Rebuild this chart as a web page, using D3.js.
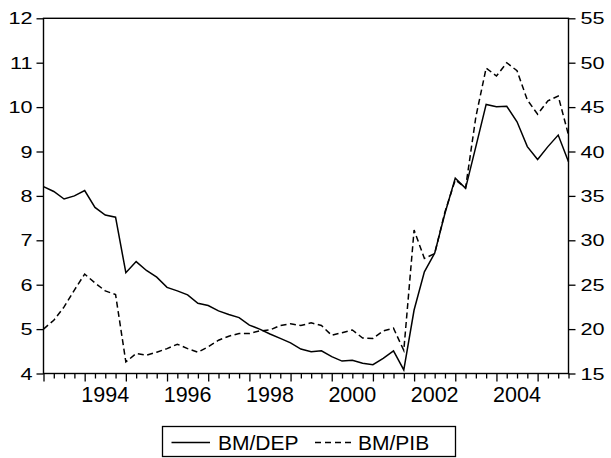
<!DOCTYPE html>
<html>
<head>
<meta charset="utf-8">
<script src="https://cdn.jsdelivr.net/npm/d3@7"></script>
<style>
  html, body { margin: 0; padding: 0; background: #fff; }
  svg { display: block; }
  text { font-family: "Liberation Sans", Arial, Helvetica, sans-serif; fill: #000; }
</style>
</head>
<body>
<svg id="chart" width="611" height="458"></svg>
<script>
// ---- data ----
const quarters = [
  "1993Q1","1993Q2","1993Q3","1993Q4","1994Q1","1994Q2","1994Q3","1994Q4",
  "1995Q1","1995Q2","1995Q3","1995Q4","1996Q1","1996Q2","1996Q3","1996Q4",
  "1997Q1","1997Q2","1997Q3","1997Q4","1998Q1","1998Q2","1998Q3","1998Q4",
  "1999Q1","1999Q2","1999Q3","1999Q4","2000Q1","2000Q2","2000Q3","2000Q4",
  "2001Q1","2001Q2","2001Q3","2001Q4","2002Q1","2002Q2","2002Q3","2002Q4",
  "2003Q1","2003Q2","2003Q3","2003Q4","2004Q1","2004Q2","2004Q3","2004Q4",
  "2005Q1","2005Q2","2005Q3","2005Q4"
];
// BM/DEP (left axis)
const bmDep = [
  8.21, 8.10, 7.93, 8.00, 8.12, 7.74, 7.57, 7.52,
  6.27, 6.52, 6.32, 6.17, 5.94, 5.86, 5.77, 5.58,
  5.53, 5.41, 5.33, 5.26, 5.09, 5.00, 4.89, 4.79,
  4.69, 4.55, 4.49, 4.51, 4.38, 4.28, 4.30, 4.23,
  4.20, 4.34, 4.51, 4.08, 5.43, 6.29, 6.71, 7.61,
  8.40, 8.17, 9.11, 10.06, 10.01, 10.02, 9.67, 9.11,
  8.82, 9.11, 9.37, 8.77
];
// BM/PIB (right axis)
const bmPib = [
  20.0, 21.0, 22.5, 24.4, 26.2, 25.2, 24.3, 23.9,
  16.3, 17.25, 17.06, 17.4, 17.8, 18.3, 17.8, 17.4,
  18.0, 18.75, 19.2, 19.5, 19.5, 19.8, 19.9, 20.4,
  20.6, 20.4, 20.7, 20.4, 19.3, 19.6, 19.9, 19.0,
  18.95, 19.8, 20.1, 17.6, 31.15, 27.96, 28.5, 33.2,
  36.8, 35.9, 43.9, 49.4, 48.5, 50.0, 49.1, 45.8,
  44.2, 45.7, 46.25, 41.85
];
const leftTicks = [4, 5, 6, 7, 8, 9, 10, 11, 12];
const rightTicks = [15, 20, 25, 30, 35, 40, 45, 50, 55];
const yearLabels = ["1994", "1996", "1998", "2000", "2002", "2004"];
const seriesNames = ["BM/DEP", "BM/PIB"];

// ---- layout ----
const L = 43.5, R = 568.5, T = 18.3, B = 373.5;
const svg = d3.select("#chart");

const x = d3.scaleLinear().domain([0, quarters.length - 1]).range([L, R]);
const yL = d3.scaleLinear().domain([4, 12]).range([B, T]);
const yR = d3.scaleLinear().domain([15, 55]).range([B, T]);

// frame
svg.append("rect")
  .attr("x", L).attr("y", T).attr("width", R - L).attr("height", B - T)
  .attr("fill", "none").attr("stroke", "#000").attr("stroke-width", 1.4);

// left axis
const gl = svg.append("g").attr("transform", `translate(${L},0)`)
  .call(d3.axisLeft(yL).tickValues(leftTicks).tickSize(7).tickFormat(""));
gl.select(".domain").remove();
gl.selectAll(".tick line").attr("stroke", "#000").attr("stroke-width", 1.3);
gl.selectAll(".tick").append("text")
  .attr("transform", "translate(-11,5.5) scale(1.33,1)")
  .attr("text-anchor", "end")
  .style("font-size", "16.3px")
  .text(d => d);

// right axis
const gr = svg.append("g").attr("transform", `translate(${R},0)`)
  .call(d3.axisRight(yR).tickValues(rightTicks).tickSize(7).tickFormat(""));
gr.select(".domain").remove();
gr.selectAll(".tick line").attr("stroke", "#000").attr("stroke-width", 1.3);
gr.selectAll(".tick").append("text")
  .attr("transform", "translate(12,5.5) scale(1.33,1)")
  .attr("text-anchor", "start")
  .style("font-size", "16.3px")
  .text(d => d);

// bottom axis (quarterly ticks, longer at each year start)
const gb = svg.append("g").attr("transform", `translate(0,${B})`)
  .call(d3.axisBottom(x).tickValues(d3.range(quarters.length)).tickSize(5).tickFormat(""));
gb.select(".domain").remove();
gb.selectAll(".tick line")
  .attr("stroke", "#000").attr("stroke-width", 1.3)
  .attr("y2", d => quarters[d].endsWith("Q1") ? 8 : 5);

// year labels centered in the year span
yearLabels.forEach(yr => {
  const i = quarters.indexOf(yr + "Q1");
  svg.append("text")
    .attr("x", x(i + 2)).attr("y", 401.5)
    .attr("text-anchor", "middle")
    .style("font-size", "21.5px")
    .text(yr);
});

// lines
const lineL = d3.line().x((d, i) => x(i)).y(d => yL(d));
const lineR = d3.line().x((d, i) => x(i)).y(d => yR(d));

svg.append("path").datum(bmDep)
  .attr("d", lineL).attr("fill", "none")
  .attr("stroke", "#000").attr("stroke-width", 1.5).attr("stroke-linejoin", "miter");

svg.append("path").datum(bmPib)
  .attr("d", lineR).attr("fill", "none")
  .attr("stroke", "#000").attr("stroke-width", 1.5)
  .attr("stroke-dasharray", "6,3.5");

// legend
const lg = svg.append("g");
lg.append("rect")
  .attr("x", 162.5).attr("y", 426.5).attr("width", 293).attr("height", 30)
  .attr("fill", "#fff").attr("stroke", "#000").attr("stroke-width", 1.3);
lg.append("line")
  .attr("x1", 171.5).attr("x2", 210).attr("y1", 442.5).attr("y2", 442.5)
  .attr("stroke", "#000").attr("stroke-width", 1.4);
lg.append("text").attr("x", 218).attr("y", 450).style("font-size", "21px").text(seriesNames[0]);
lg.append("line")
  .attr("x1", 315).attr("x2", 352).attr("y1", 442.5).attr("y2", 442.5)
  .attr("stroke", "#000").attr("stroke-width", 1.4)
  .attr("stroke-dasharray", "6,4");
lg.append("text").attr("x", 358).attr("y", 450).style("font-size", "21px").text(seriesNames[1]);
</script>
</body>
</html>
